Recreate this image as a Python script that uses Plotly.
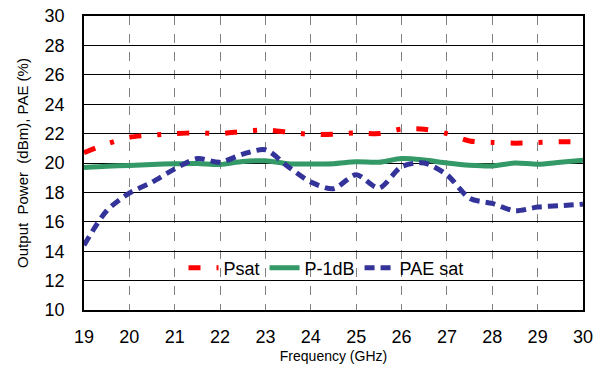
import plotly.graph_objects as go

freq = [19, 19.5, 20, 20.5, 21, 21.5, 22, 22.5, 23, 23.5, 24, 24.5, 25, 25.5, 26, 26.5, 27, 27.5, 28, 28.5, 29, 29.5, 30]
psat = [20.7, 21.3, 21.75, 21.9, 22.0, 22.05, 22.0, 22.15, 22.25, 22.1, 21.95, 21.95, 22.05, 22.0, 22.3, 22.3, 22.0, 21.5, 21.4, 21.35, 21.4, 21.45, 21.45]
p1db = [19.7, 19.78, 19.83, 19.9, 19.95, 19.97, 19.9, 20.1, 20.15, 19.95, 19.93, 19.95, 20.08, 20.05, 20.3, 20.2, 20.0, 19.85, 19.8, 20.0, 19.92, 20.05, 20.18]
pae = [14.4, 16.75, 17.95, 18.7, 19.6, 20.3, 20.05, 20.6, 20.9, 19.75, 18.7, 18.25, 19.2, 18.3, 19.75, 20.0, 19.2, 17.6, 17.25, 16.75, 17.0, 17.1, 17.2]

x_ticks = list(range(19, 31))
y_ticks = list(range(10, 31, 2))

FONT = "Arial, Liberation Sans, sans-serif"

fig = go.Figure()
fig.add_trace(go.Scatter(x=freq, y=psat, name="Psat", mode="lines",
                         line=dict(color="#FF0000", width=5, dash="12px,16px,4px,16px",
                                   shape="spline", smoothing=0.8)))
fig.add_trace(go.Scatter(x=freq, y=p1db, name="P-1dB", mode="lines",
                         line=dict(color="#339966", width=5, shape="spline", smoothing=0.8)))
fig.add_trace(go.Scatter(x=freq, y=pae, name="PAE sat", mode="lines",
                         line=dict(color="#333399", width=5, dash="10px,6px",
                                   shape="spline", smoothing=0.8)))

fig.update_layout(
    width=603, height=368,
    margin=dict(l=84, r=20, t=16, b=58),
    paper_bgcolor="white", plot_bgcolor="white",
    font=dict(family=FONT, size=18, color="black"),
    showlegend=True,
    legend=dict(orientation="h", x=0.485, y=0.143, xanchor="center", yanchor="middle",
                bgcolor="rgba(0,0,0,0)", font=dict(size=18), itemwidth=30,
                tracegroupgap=0),
)
fig.update_xaxes(range=[19, 30], tickvals=x_ticks, ticktext=[str(v) for v in x_ticks],
                 showgrid=True, gridcolor="#808080", griddash="dash", gridwidth=1,
                 showline=True, linecolor="black", linewidth=1.5, mirror=True,
                 ticks="", ticklabelstandoff=10, zeroline=False, automargin=False,
                 title=dict(text="Frequency (GHz)", font=dict(size=14), standoff=5))
fig.update_yaxes(range=[10, 30], tickvals=y_ticks, ticktext=[str(v) for v in y_ticks],
                 showgrid=True, gridcolor="black", gridwidth=1,
                 showline=True, linecolor="black", linewidth=1.5, mirror=True,
                 ticks="", ticklabelstandoff=14, zeroline=False, automargin=False,
                 title=dict(text="Output&nbsp;&nbsp;Power&nbsp;&nbsp;(dBm),&nbsp;PAE&nbsp;(%)",
                            font=dict(size=15), standoff=12))

fig.write_html("out.html")
